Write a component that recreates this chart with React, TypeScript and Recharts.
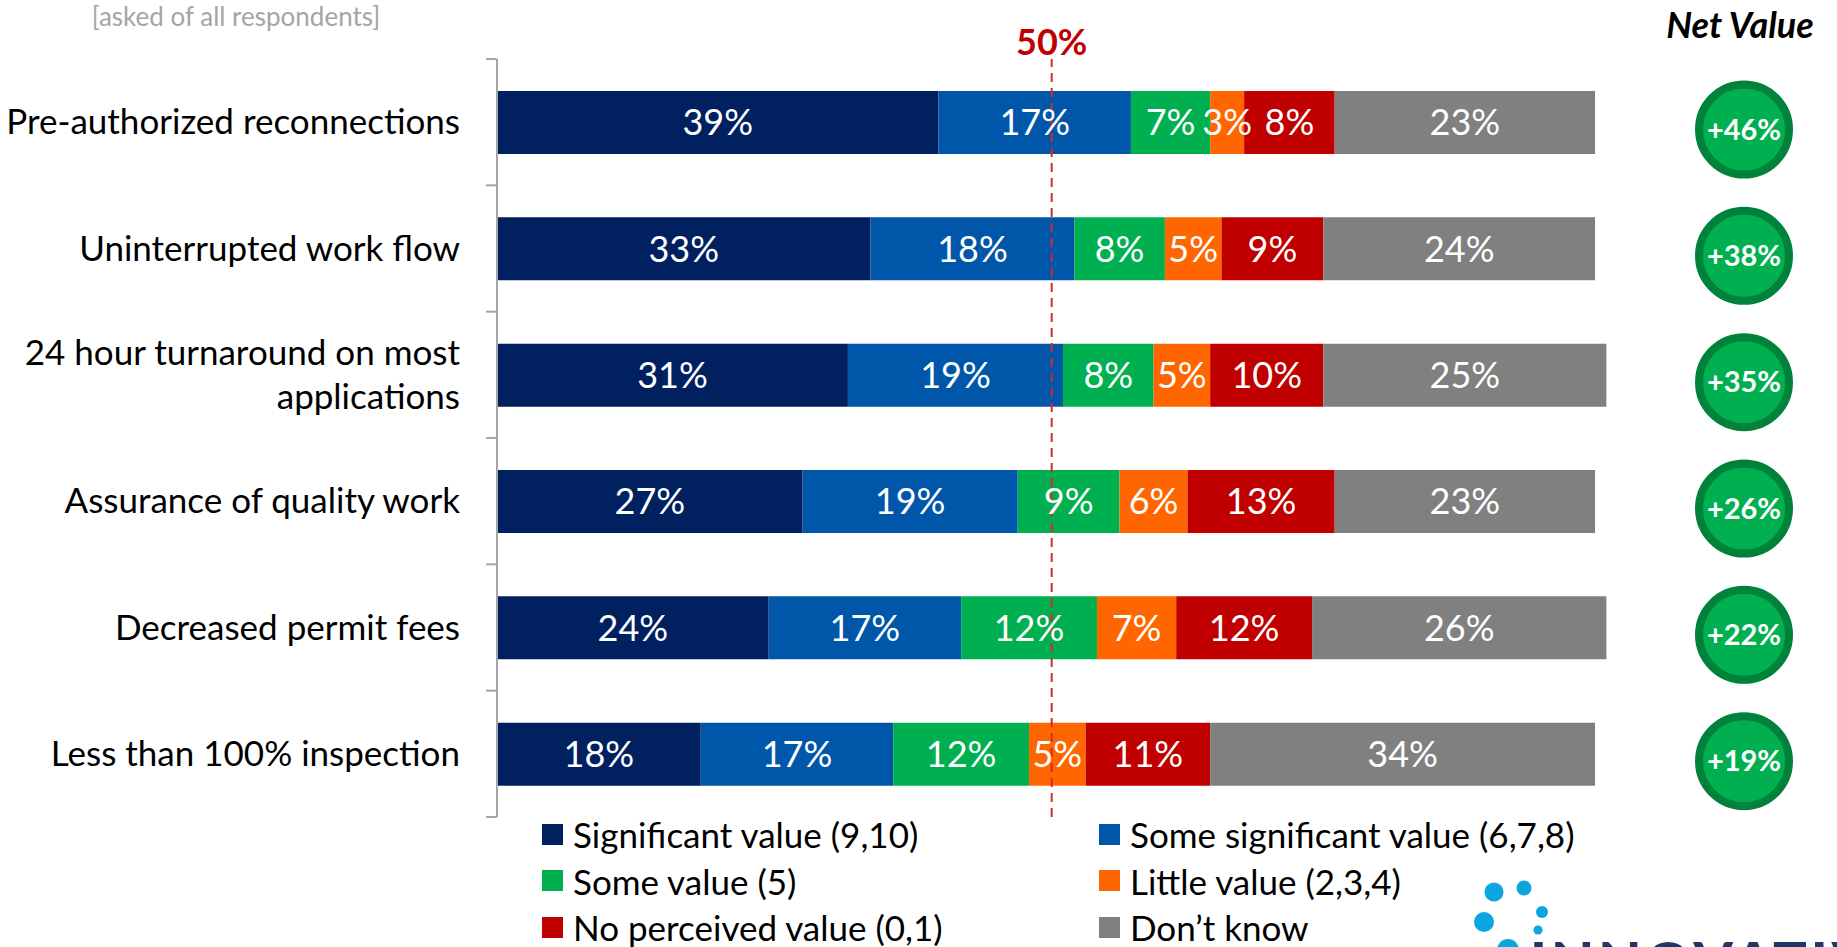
import { BarChart, Bar, XAxis, YAxis, ReferenceLine, LabelList } from 'recharts'

const categories = [
  'Pre-authorized reconnections',
  'Uninterrupted work flow',
  '24 hour turnaround on most\napplications',
  'Assurance of quality work',
  'Decreased permit fees',
  'Less than 100% inspection',
]
const significant = [39, 33, 31, 27, 24, 18]
const someSignificant = [17, 18, 19, 19, 17, 17]
const someValue = [7, 8, 8, 9, 12, 12]
const littleValue = [3, 5, 5, 6, 7, 5]
const noValue = [8, 9, 10, 13, 12, 11]
const dontKnow = [23, 24, 25, 23, 26, 34]
const netValue = [46, 38, 35, 26, 22, 19]

const series = [
  { key: 'significant', name: 'Significant value (9,10)', color: '#002060', values: significant },
  { key: 'someSignificant', name: 'Some significant value (6,7,8)', color: '#0057AA', values: someSignificant },
  { key: 'someValue', name: 'Some value (5)', color: '#00B050', values: someValue },
  { key: 'littleValue', name: 'Little value (2,3,4)', color: '#FF6600', values: littleValue },
  { key: 'noValue', name: 'No perceived value (0,1)', color: '#C00000', values: noValue },
  { key: 'dontKnow', name: 'Don\u2019t know', color: '#808080', values: dontKnow },
]

const data = categories.map((name, i) => {
  const row: any = { name, net: netValue[i] }
  series.forEach((s) => (row[s.key] = s.values[i]))
  return row
})

const W = 1837
const H = 947
const PLOT_LEFT = 497
const PLOT_TOP = 59
const PLOT_BOTTOM = 817
const PLOT_RIGHT = 1629
const PLOT_H = PLOT_BOTTOM - PLOT_TOP
const BAND = PLOT_H / categories.length
const AXIS_GREY = '#A6A6A6'
// recharts puts the tick x at axis - (tickSize 6 + tickMargin 2)
const TICK_GAP = 8

const CategoryTick = ({ x, y, payload, index }: any) => {
  const ax = x + TICK_GAP
  const lines = String(payload.value).split('\n')
  const lh = 44
  const dy0 = 12 - ((lines.length - 1) * lh) / 2
  return (
    <g>
      <line x1={ax - 11} x2={ax} y1={y - BAND / 2} y2={y - BAND / 2} stroke={AXIS_GREY} strokeWidth={2} />
      {index === categories.length - 1 && (
        <line x1={ax - 11} x2={ax} y1={y + BAND / 2} y2={y + BAND / 2} stroke={AXIS_GREY} strokeWidth={2} />
      )}
      <text x={ax - 37} y={y} textAnchor="end" fontSize={35} fill="#000">
        {lines.map((l, i) => (
          <tspan key={i} x={ax - 37} dy={i === 0 ? dy0 : lh}>
            {l}
          </tspan>
        ))}
      </text>
    </g>
  )
}

const NetBadge = ({ y, height, value }: any) => {
  const cx = PLOT_RIGHT + 115
  const cy = y + height / 2 + 7
  return (
    <g>
      <circle cx={cx} cy={cy} r={45} fill="#00B050" stroke="#00823B" strokeWidth={8} />
      <text x={cx} y={cy + 10} textAnchor="middle" fontSize={29} fontWeight={700} fill="#fff">
        +{value}%
      </text>
    </g>
  )
}

export default function App() {
  const last = series.length - 1
  return (
    <div style={{ position: 'absolute', left: 0, top: 0, width: W, height: H, background: '#fff', fontFamily: 'Lato, sans-serif' }}>
      <BarChart
        width={W}
        height={H}
        data={data}
        layout="vertical"
        margin={{ top: PLOT_TOP, right: W - PLOT_RIGHT, bottom: H - PLOT_BOTTOM, left: 0 }}
      >
        <XAxis type="number" domain={[0, 100]} hide />
        <YAxis
          type="category"
          dataKey="name"
          width={PLOT_LEFT}
          axisLine={{ stroke: AXIS_GREY, strokeWidth: 2 }}
          tickLine={false}
          interval={0}
          tick={<CategoryTick />}
        />
        {series.map((s, si) => (
          <Bar
            key={s.key}
            dataKey={s.key}
            stackId="a"
            fill={s.color}
            barSize={Math.round(BAND / 2)}
            isAnimationActive={false}
          >
            <LabelList
              dataKey={s.key}
              position="center"
              fill="#fff"
              fontSize={36}
              formatter={(v: any) => `${v}%`}
            />
            {si === last ? <LabelList dataKey="net" content={<NetBadge />} /> : null}
          </Bar>
        ))}
        <ReferenceLine
          x={49}
          stroke="#D42A2A"
          strokeWidth={2}
          strokeDasharray="9 6"
          label={{ value: '50%', position: 'top', offset: 4, fill: '#C00000', fontSize: 36, fontWeight: 700 }}
        />
      </BarChart>

      <div style={{ position: 'absolute', left: 542, top: 811, display: 'grid', gridTemplateColumns: '557px auto' }}>
        {series.map((s) => (
          <div key={s.key} style={{ display: 'flex', alignItems: 'center', height: 46.5, fontSize: 35, color: '#000', whiteSpace: 'nowrap' }}>
            <span style={{ display: 'inline-block', width: 21, height: 21, background: s.color, marginRight: 10 }} />
            <span>{s.name}</span>
          </div>
        ))}
      </div>

      <svg width={W} height={H} style={{ position: 'absolute', left: 0, top: 0, pointerEvents: 'none' }}>
        <text x={236} y={26} textAnchor="middle" fontSize={26} fill="#A5A5A5">
          [asked of all respondents]
        </text>
        <text x={1740} y={38} textAnchor="middle" fontSize={36} fontWeight={700} fontStyle="italic" fill="#000">
          Net Value
        </text>
        <g fill="#0BA5E0">
          <circle cx={1494} cy={892} r={9.5} />
          <circle cx={1524} cy={888} r={7.5} />
          <circle cx={1542} cy={912} r={6} />
          <circle cx={1484} cy={922} r={10} />
          <circle cx={1538} cy={930} r={4.5} />
          <circle cx={1508} cy={950} r={11} />
        </g>
        <text x={1530} y={982} fontSize={56} fontWeight={900} fill="#1F3864" letterSpacing={4}>
          INNOVATIVE
        </text>
      </svg>
    </div>
  )
}
